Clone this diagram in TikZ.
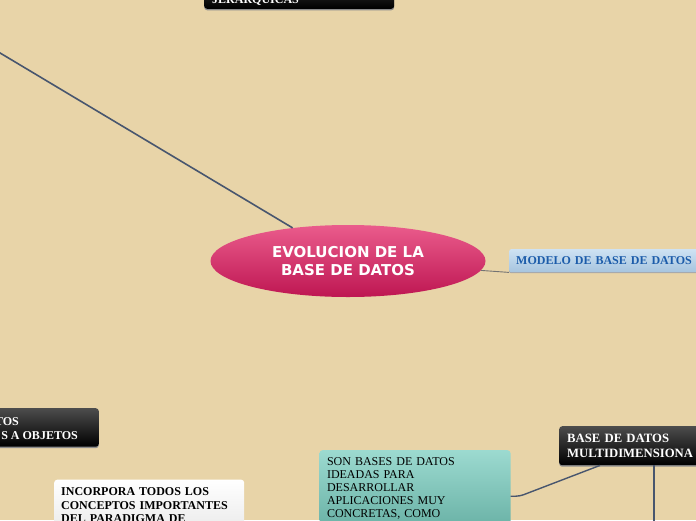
\documentclass[tikz,border=0pt]{standalone}
\usepackage{fontspec}
\setmainfont{Liberation Serif}
\newfontfamily\evolfont{DejaVu Sans}
\usetikzlibrary{shapes.geometric,shadows}

\definecolor{bgcol}{RGB}{232,212,168}
\definecolor{linkcol}{RGB}{72,86,110}
\definecolor{evoltop}{RGB}{234,92,140}
\definecolor{evolbot}{RGB}{190,22,82}
\definecolor{modtop}{RGB}{206,226,243}
\definecolor{modbot}{RGB}{166,196,222}
\definecolor{modtext}{RGB}{28,92,170}
\definecolor{sontop}{RGB}{156,218,208}
\definecolor{sonbot}{RGB}{106,178,166}

\begin{document}
\begin{tikzpicture}[x=1pt,y=-1pt,
    link/.style={draw=linkcol,line width=1.6pt},
    thinlink/.style={draw=black!55,line width=0.9pt},
    evolnode/.style={ellipse,inner sep=0pt,minimum width=275pt,minimum height=72pt,
        top color=evoltop,bottom color=evolbot,text=white,align=center,
        font=\evolfont\bfseries\fontsize{15}{18.3}\selectfont},
    darkbox/.style={rectangle,rounded corners=3pt,top color=black!70,bottom color=black,
        drop shadow={shadow xshift=0pt,shadow yshift=-1.5pt,fill=black!45,opacity=1}},
    darktext/.style={text=white,inner sep=0pt,font=\bfseries\fontsize{12}{15.5}\selectfont},
    modbox/.style={rectangle,rounded corners=2pt,top color=modtop,bottom color=modbot,
        text=modtext,font=\bfseries\fontsize{12}{14}\selectfont,
        drop shadow={shadow xshift=0pt,shadow yshift=-1pt,fill=black!35,opacity=1}},
    notebox/.style={rectangle,rounded corners=3pt,align=left,inner xsep=7pt,
        font=\fontsize{12}{13}\selectfont}
]
    \useasboundingbox (0,0) rectangle (696,520);
    \clip (0,0) rectangle (696,520);
    \fill[bgcol] (0,0) rectangle (696,520);

    % centre
    \node[evolnode] (evol) at (348,261) {EVOLUCION DE LA\\BASE DE DATOS};

    % boxes cut by the frame
    \node[darkbox,anchor=south west,minimum width=190pt,minimum height=40pt] (jerar) at (204,9) {};
    \node[darktext,anchor=base west] (jerartxt) at (212,3.5) {JERARQUICAS};

    \node[darkbox,anchor=north east,minimum width=150pt,minimum height=38.5pt] (objetos) at (99,408) {};
    \node[darktext,anchor=base east] (objtxta) at (19,425) {TOS};
    \node[darktext,anchor=base east] (objtxtb) at (78,439.5) {S A OBJETOS};

    \node[modbox,anchor=north west,minimum width=200pt,minimum height=23pt,
        text width=186pt,inner xsep=7pt,align=left] (modelo) at (509,249) {MODELO DE BASE DE DATOS};

    \node[darkbox,darktext,anchor=north west,minimum width=160pt,minimum height=39pt,
        text width=144pt,inner xsep=8pt,align=left,font=\bfseries\fontsize{12.7}{15.4}\selectfont]
        (multi) at (559,426) {BASE DE DATOS\\MULTIDIMENSIONA};

    \node[notebox,anchor=north west,minimum width=190pt,minimum height=77pt,text width=176pt,
        top color=sontop,bottom color=sonbot,inner xsep=7.5pt] (son) at (319.3,450)
        {SON BASES DE DATOS\\IDEADAS PARA\\DESARROLLAR\\APLICACIONES MUY\\CONCRETAS, COMO};

    \node[notebox,anchor=north west,minimum width=190pt,minimum height=51pt,text width=176pt,
        top color=white,bottom color=black!8,font=\bfseries\fontsize{12}{13.7}\selectfont]
        (incorp) at (54,479.5) {INCORPORA TODOS LOS\\CONCEPTOS IMPORTANTES\\DEL PARADIGMA DE};

    % free ends and joints
    \coordinate (farleft) at (-30,35);
    \coordinate (sonout) at ([yshift=-7.5pt]son.east);
    \coordinate (multiin) at ([xshift=41pt]multi.south west);
    \coordinate (multidown) at ([xshift=95pt]multi.south west);
    \coordinate (farbelow) at (654,560);

    % connectors
    \draw[link] (farleft) -- (evol);
    \draw[thinlink] (evol) -- (modelo.south west);
    \draw[link,line width=1.4pt,rounded corners=4pt] (sonout) -- ++(9,0) -- (multiin);
    \draw[link,line width=2.6pt] (multidown) -- (farbelow);
\end{tikzpicture}
\end{document}
